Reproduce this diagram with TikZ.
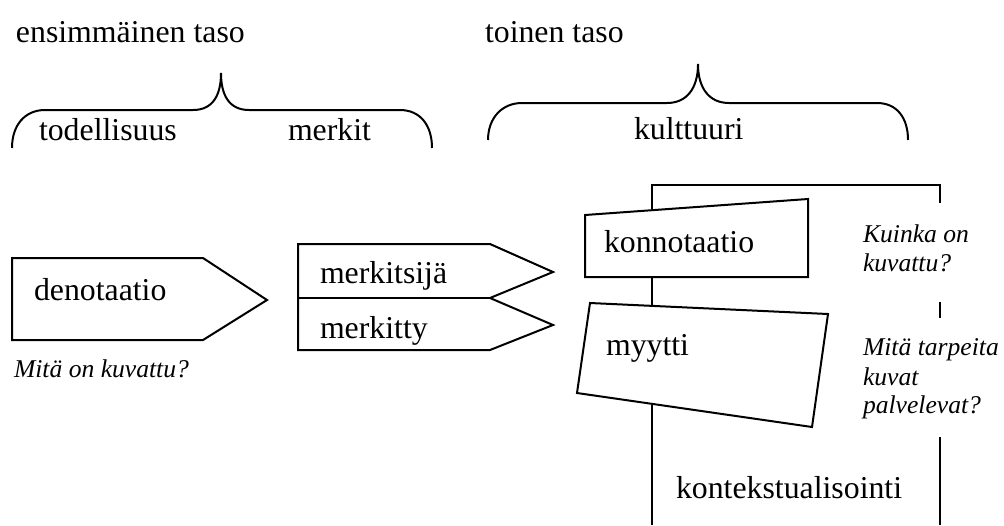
\documentclass[tikz,border=0pt]{standalone}
\usepackage{fontspec}
\setmainfont{Liberation Serif}
\usetikzlibrary{calc}

\begin{document}
\begin{tikzpicture}[x=0.5pt,y=-0.5pt,line width=1pt,
  lbl/.style={inner sep=0pt,anchor=base west,font=\fontsize{15.9}{19}\selectfont},
  ask/.style={inner sep=0pt,anchor=base west,font=\fontsize{12.8}{15}\selectfont\itshape}]
\useasboundingbox (0,0) rectangle (1004,525);
% levels
\node[lbl] (lev1) at (15,42) {ensimmäinen taso};
\node[lbl] (lev2) at (484,42) {toinen taso};
\draw (12,148) .. controls (12,125) and (25,110) .. (45,110) -- (193,110)
  .. controls (213,110) and (221,95) .. (221,73)
  .. controls (221,95) and (229,110) .. (249,110) -- (400,110)
  .. controls (420,110) and (432,125) .. (432,148);
\draw (488,140) .. controls (488,118) and (502,103) .. (522,103) -- (667,103)
  .. controls (687,103) and (698,88) .. (698,64)
  .. controls (698,88) and (709,103) .. (729,103) -- (877,103)
  .. controls (897,103) and (908,118) .. (908,140);
\node[lbl] (real) at (38,140) {todellisuus};
\node[lbl] (signs) at (287,140) {merkit};
\node[lbl] (cult) at (633,139) {kulttuuri};
% denotaatio
\draw (12,258) -- (203,258) -- (267,300) -- (203,340) -- (12,340) -- cycle;
\node[lbl] (den) at (33,300) {denotaatio};
\node[ask] (q1) at (13,377) {Mitä on kuvattu?};
% merkitsija / merkitty
\draw (298,244) -- (490,244) -- (553,272) -- (490,298) -- (553,325) -- (490,350) -- (298,350) -- cycle;
\draw (298,298) -- (490,298);
\node[lbl] (sr) at (319,283) {merkitsijä};
\node[lbl] (sd) at (319,338) {merkitty};
% konnotaatio, myytti
\coordinate (k1) at (585,215); \coordinate (k2) at (808,199);
\coordinate (k3) at (808,277); \coordinate (k4) at (585,277);
\draw (k1) -- (k2) -- (k3) -- (k4) -- cycle;
\node[lbl] (kon) at (603,252) {konnotaatio};
\coordinate (m1) at (590,303); \coordinate (m2) at (828,314);
\coordinate (m3) at (812,427); \coordinate (m4) at (577,393);
\draw (m1) -- (m2) -- (m3) -- (m4) -- cycle;
\node[lbl] (myy) at (605,355) {myytti};
% frame
\coordinate (ftl) at (652,185);
\coordinate (ftr) at (940,185);
\coordinate (fbl) at (652,525);
\coordinate (kt) at ($(k1)!.3!(k2)$);
\coordinate (kb) at ($(k4)!.3!(k3)$);
\coordinate (mt) at ($(m1)!.26!(m2)$);
\coordinate (mb) at ($(m4)!.32!(m3)$);
\draw (ftl |- kt) -- (ftl) -- (ftr) -- ++(0,18);
\draw (ftl |- kb) -- (ftl |- mt);
\draw (ftl |- mb) -- (fbl);
\draw (940,302) -- (940,318);
\draw (940,437) -- (940,525);
\node[ask] (q2a) at (862,242) {Kuinka on};
\node[ask] (q2b) at (862,271) {kuvattu?};
\node[ask] (q3a) at (862,355) {Mitä tarpeita};
\node[ask] (q3b) at (862,385) {kuvat};
\node[ask] (q3c) at (862,413) {palvelevat?};
\node[lbl] (ctx) at (675,498) {kontekstualisointi};
\end{tikzpicture}
\end{document}
